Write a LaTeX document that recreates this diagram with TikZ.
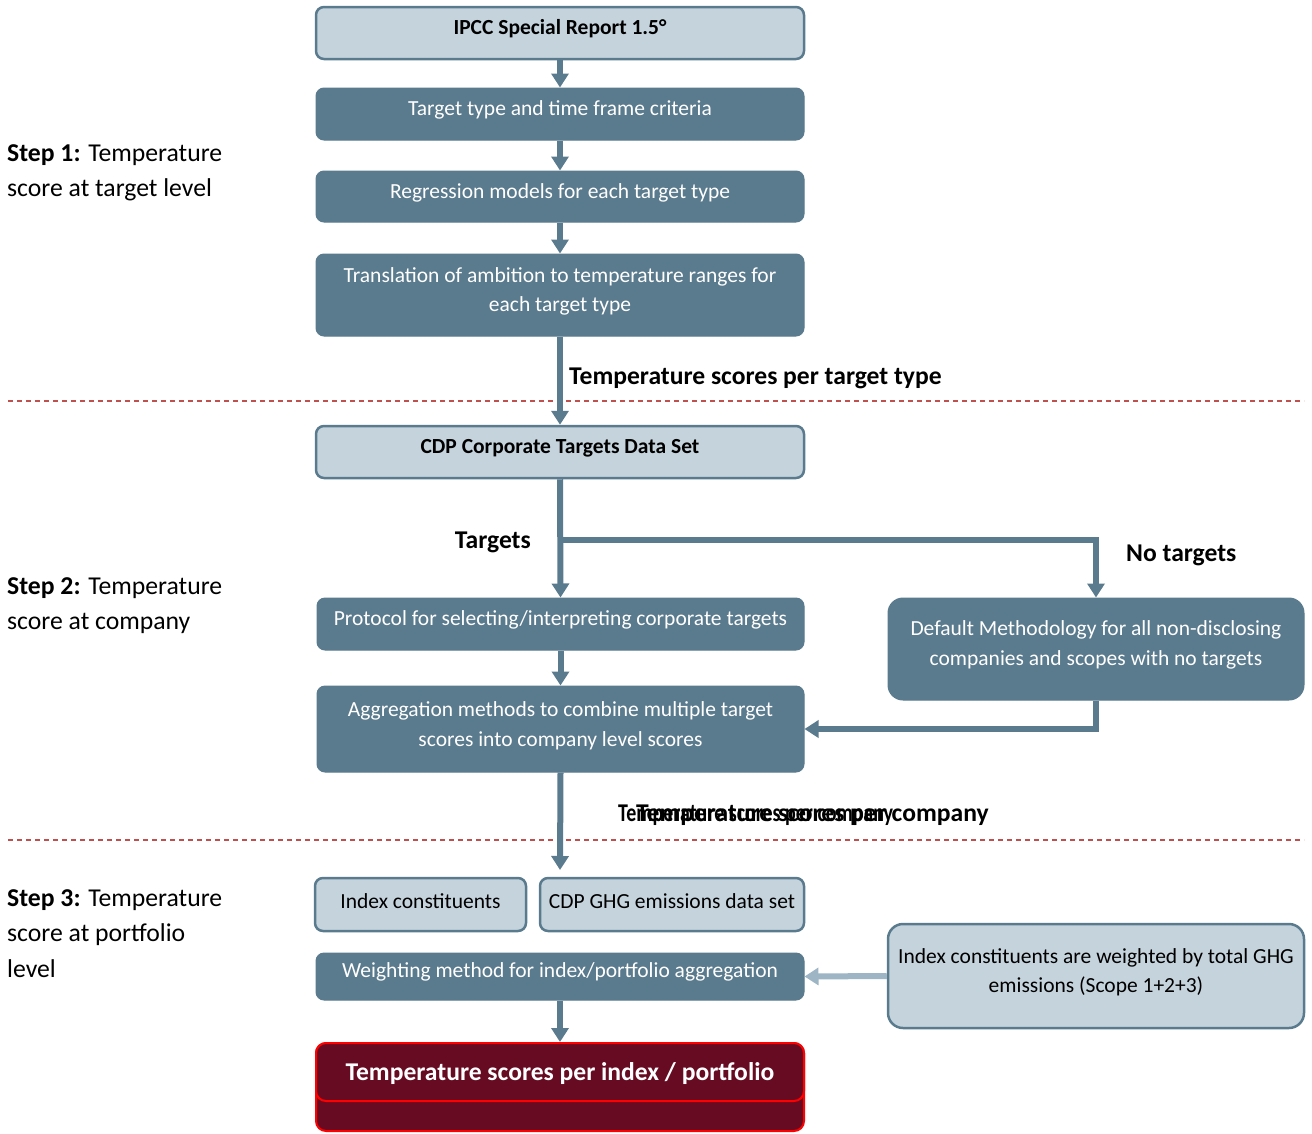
\documentclass[tikz,border=0pt]{standalone}
\usepackage{fontspec}
\setmainfont{Carlito}
\usetikzlibrary{arrows.meta}
\definecolor{dk}{HTML}{5A7A8D}
\definecolor{lt}{HTML}{C5D3DC}
\definecolor{la}{HTML}{9DB5C4}
\definecolor{wine}{HTML}{670B22}
\definecolor{dashred}{HTML}{C0504D}
\begin{document}
\begin{tikzpicture}[x=1pt,y=-1pt,
  darkbox/.style={rectangle, rounded corners=8pt, fill=dk, draw=dk, line width=1pt, inner sep=0pt},
  lightbox/.style={rectangle, rounded corners=8pt, fill=lt, draw=dk, line width=2.5pt, inner sep=0pt},
  redbox/.style={rectangle, rounded corners=10pt, fill=wine, draw=red, line width=2pt, inner sep=0pt},
  wtxt/.style={text=white, font=\fontsize{21.5}{29.5}\selectfont, align=center, inner sep=0pt},
  btxt/.style={text=black, font=\fontsize{21.5}{29.5}\selectfont, align=center, inner sep=0pt},
  hdtxt/.style={text=black, font=\bfseries\fontsize{21.5}{29.5}\selectfont, align=center, inner sep=0pt},
  lbl/.style={text=black, font=\bfseries\fontsize{25.6}{30}\selectfont, inner sep=0pt},
  steptxt/.style={text=black, font=\fontsize{25.7}{35.5}\selectfont, align=left, inner sep=0pt, anchor=west},
  arr/.style={draw=dk, line width=6pt, -{Triangle[width=17pt,length=14pt]}},
  larr/.style={draw=la, line width=6pt, -{Triangle[width=17pt,length=14pt]}},
  dline/.style={draw=dashred, line width=1.2pt, dash pattern=on 5pt off 4pt},
]
\useasboundingbox (0,0) rectangle (1312,1133);

% dashed separators
\draw[dline] (8,401) -- (1304,401);
\draw[dline] (8,840) -- (1304,840);

% step labels
\node[steptxt] (s1) at (7,173) {\textbf{Step 1:} Temperature\\score at target level};
\node[steptxt] (s2) at (7,605.5) {\textbf{Step 2:} Temperature\\score at company};
\node[steptxt] (s3) at (7,933.5) {\textbf{Step 3:} Temperature\\score at portfolio\\level};

% boxes
\node[lightbox, minimum width=488pt, minimum height=52pt] (ipcc) at (560,33) {};
\node[hdtxt] (ipcct) at (560,29) {IPCC Special Report 1.5°};

\node[darkbox, minimum width=488pt, minimum height=52pt] (tgt) at (560,114) {};
\node[wtxt] (tgtt) at (560,110) {Target type and time frame criteria};

\node[darkbox, minimum width=488pt, minimum height=51pt] (reg) at (560,196.5) {};
\node[wtxt] (regt) at (560,193) {Regression models for each target type};

\node[darkbox, minimum width=488pt, minimum height=82pt] (trans) at (560,295) {};
\node[wtxt] (transt) at (560,291.5) {Translation of ambition to temperature ranges for\\each target type};

\node[lightbox, minimum width=488pt, minimum height=52pt] (cdp) at (560,452) {};
\node[hdtxt] (cdpt) at (560,448) {CDP Corporate Targets Data Set};

\node[darkbox, minimum width=487pt, minimum height=52pt] (prot) at (560.5,624) {};
\node[wtxt] (prott) at (560.5,620) {Protocol for selecting/interpreting corporate targets};

\node[darkbox, rounded corners=15pt, minimum width=416pt, minimum height=102pt] (deflt) at (1096,649) {};
\node[wtxt] (defltt) at (1096,645) {Default Methodology for all non-disclosing\\companies and scopes with no targets};

\node[darkbox, minimum width=487pt, minimum height=86pt] (agg) at (560.5,729) {};
\node[wtxt] (aggt) at (560.5,726) {Aggregation methods to combine multiple target\\scores into company level scores};

\node[lightbox, minimum width=211pt, minimum height=53pt] (idx) at (420.5,904.5) {};
\node[btxt] (idxt) at (420.5,901) {Index constituents};

\node[lightbox, minimum width=264pt, minimum height=53pt] (ghg) at (672,904.5) {};
\node[btxt] (ghgt) at (672,901) {CDP GHG emissions data set};

\node[darkbox, minimum width=488pt, minimum height=47pt] (wt) at (560,976.5) {};
\node[wtxt] (wtt) at (560,972) {Weighting method for index/portfolio aggregation};

\node[lightbox, rounded corners=15pt, minimum width=416pt, minimum height=104pt] (iw) at (1096,976) {};
\node[btxt] (iwt) at (1096,972.5) {Index constituents are weighted by total GHG\\emissions (Scope 1+2+3)};

\node[redbox, minimum width=488pt, minimum height=88pt] (fin) at (560,1087) {};
\node[redbox, minimum width=488pt, minimum height=58pt] (finin) at (560,1072) {};
\node[text=white, font=\bfseries\fontsize{25.6}{30}\selectfont, inner sep=0pt] (fint) at (560,1074) {Temperature scores per index / portfolio};

% connectors
\coordinate (br) at (560,540);
\coordinate (aggend) at (560,870);
\draw[arr] (ipcc.south) -- (tgt.north);
\draw[arr] (tgt.south) -- (reg.north);
\draw[arr] (reg.south) -- (trans.north);
\draw[arr] (trans.south) -- (cdp.north);
\draw[arr] (cdp.south) -- (prot.north);
\draw[arr] (br) -| (deflt.north);
\draw[arr] (deflt.south) |- (agg.east);
\draw[arr] (prot.south) -- (agg.north);
\draw[arr] (agg.south) -- (aggend);
\draw[arr] (wt.south) -- (fin.north);
\draw[larr] (iw.west) -- (wt.east);

% connector labels
\node[lbl, anchor=west] (l1) at (569,378) {Temperature scores per target type};
\node[lbl, anchor=east] (l2) at (531,542) {Targets};
\node[lbl, anchor=west] (l3) at (1126,555) {No targets};
\node[lbl, anchor=west] (l4a) at (618,815) {\scalebox{0.78}[1]{Temperature scores per company}};
\node[lbl, anchor=west] (l4b) at (636,815) {Temperature scores per company};
\end{tikzpicture}
\end{document}
